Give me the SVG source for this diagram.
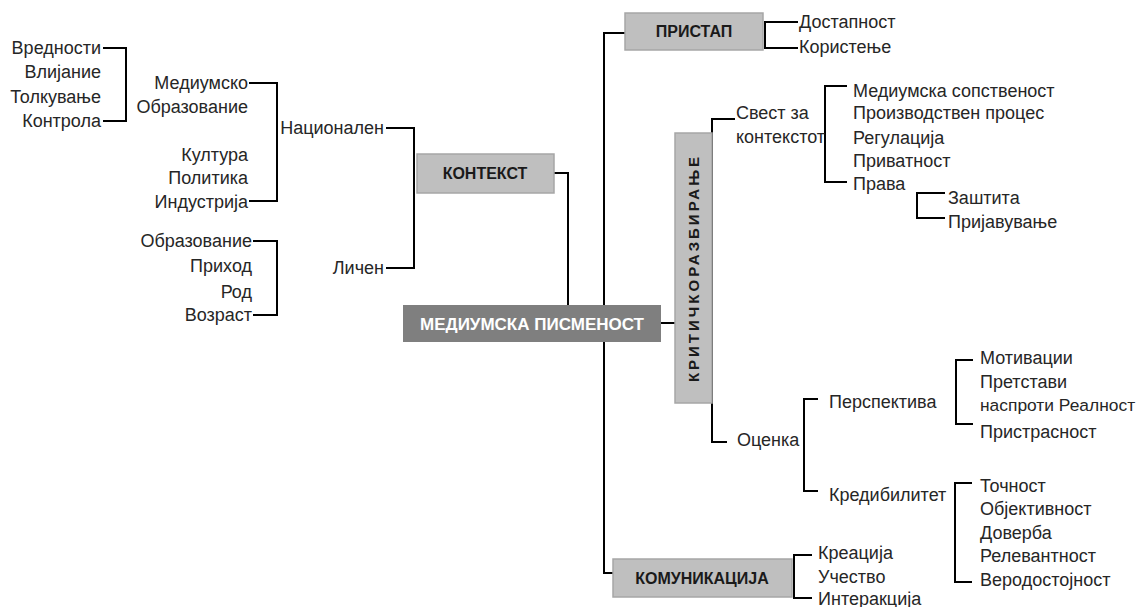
<svg xmlns="http://www.w3.org/2000/svg" width="1138" height="607" viewBox="0 0 1138 607">
<style>
.t{font-family:"Liberation Sans",Arial,sans-serif;font-size:18px;fill:#262626}
.e{text-anchor:end}
.box{fill:#bfbfbf;stroke:#a6a6a6;stroke-width:1.5}
.bt{font-family:"Liberation Sans",Arial,sans-serif;font-size:16px;font-weight:bold;fill:#1a1a1a;text-anchor:middle}
.ln{fill:none;stroke:#000;stroke-width:2}
</style>
<rect width="1138" height="607" fill="#fff"/>
<g id="connectors">
<path class="ln" d="M554,173 H568 V305"/>
<path class="ln" d="M661,323 H675"/>
<path class="ln" d="M625,33 H604 V573 H613"/>
<path class="ln" d="M735,119 H712 V442 H727"/>
<path class="ln" d="M103,48 H126 V121 H103"/>
<path class="ln" d="M249,83 H277 V201 H249"/>
<path class="ln" d="M253,241 H277 V315 H253"/>
<path class="ln" d="M386,128 H414 V268 H386"/>
<path class="ln" d="M798,22 H765 V48 H798"/>
<path class="ln" d="M847,86 H825 V182 H847"/>
<path class="ln" d="M945,193 H917 V218 H945"/>
<path class="ln" d="M818,399 H804 V491 H818"/>
<path class="ln" d="M973,360 H956 V424 H973"/>
<path class="ln" d="M972,483 H955 V582 H972"/>
<path class="ln" d="M812,555 H794 V598 H812"/>
</g>
<g id="main">
<rect x="403" y="305" width="258" height="37" fill="#7f7f7f"/>
<text class="bt" x="532" y="330" style="fill:#fff;font-size:17px">МЕДИУМСКА ПИСМЕНОСТ</text>
</g>
<g id="kontekst">
<rect class="box" x="417" y="154" width="137" height="39"/>
<text class="bt" x="485" y="179">КОНТЕКСТ</text>
</g>
<g id="pristap">
<rect class="box" x="625" y="13" width="138" height="37"/>
<text class="bt" x="694" y="37">ПРИСТАП</text>
</g>
<g id="komunikacija">
<rect class="box" x="613" y="559" width="179" height="38"/>
<text class="bt" x="702" y="584">КОМУНИКАЦИЈА</text>
</g>
<g id="kriticko">
<rect class="box" x="675" y="133" width="37" height="270"/>
<text class="bt" transform="translate(699,268) rotate(-90)" x="0" y="0" style="font-size:15px;letter-spacing:3px">КРИТИЧКОРАЗБИРАЊЕ</text>
</g>
<g id="nacionalen">
<text class="t e" x="384" y="134">Национален</text>
<text class="t e" x="384" y="274">Личен</text>
</g>
<g id="nacionalen-items">
<text class="t e" x="248" y="89">Медиумско</text>
<text class="t e" x="248" y="113">Образование</text>
<text class="t e" x="248" y="161">Култура</text>
<text class="t e" x="248" y="184">Политика</text>
<text class="t e" x="248" y="208">Индустрија</text>
</g>
<g id="mediumsko-items">
<text class="t e" x="101" y="54">Вредности</text>
<text class="t e" x="101" y="78">Влијание</text>
<text class="t e" x="101" y="103">Толкување</text>
<text class="t e" x="101" y="127">Контрола</text>
</g>
<g id="licen-items">
<text class="t e" x="252" y="247">Образование</text>
<text class="t e" x="252" y="272">Приход</text>
<text class="t e" x="252" y="298">Род</text>
<text class="t e" x="252" y="321">Возраст</text>
</g>
<g id="pristap-items">
<text class="t" x="799" y="28">Достапност</text>
<text class="t" x="799" y="53">Користење</text>
</g>
<g id="svest">
<text class="t" x="736" y="119">Свест за</text>
<text class="t" x="736" y="143">контекстот</text>
</g>
<g id="svest-items">
<text class="t" x="853" y="97">Медиумска сопственост</text>
<text class="t" x="853" y="119">Производствен процес</text>
<text class="t" x="853" y="144">Регулација</text>
<text class="t" x="853" y="167">Приватност</text>
<text class="t" x="853" y="190">Права</text>
</g>
<g id="prava-items">
<text class="t" x="948" y="204">Заштита</text>
<text class="t" x="948" y="228">Пријавување</text>
</g>
<g id="ocenka">
<text class="t" x="737" y="446">Оценка</text>
</g>
<g id="ocenka-items">
<text class="t" x="829" y="408">Перспектива</text>
<text class="t" x="829" y="501">Кредибилитет</text>
</g>
<g id="perspektiva-items">
<text class="t" x="980" y="364">Мотивации</text>
<text class="t" x="980" y="388">Претстави</text>
<text class="t" x="980" y="411" style="font-size:17.4px">наспроти Реалност</text>
<text class="t" x="980" y="438">Пристрасност</text>
</g>
<g id="kredibilitet-items">
<text class="t" x="980" y="492">Точност</text>
<text class="t" x="980" y="515">Објективност</text>
<text class="t" x="980" y="539">Доверба</text>
<text class="t" x="980" y="562">Релевантност</text>
<text class="t" x="980" y="586">Веродостојност</text>
</g>
<g id="komunikacija-items">
<text class="t" x="818" y="559">Креација</text>
<text class="t" x="818" y="583">Учество</text>
<text class="t" x="818" y="605">Интеракција</text>
</g>
</svg>
